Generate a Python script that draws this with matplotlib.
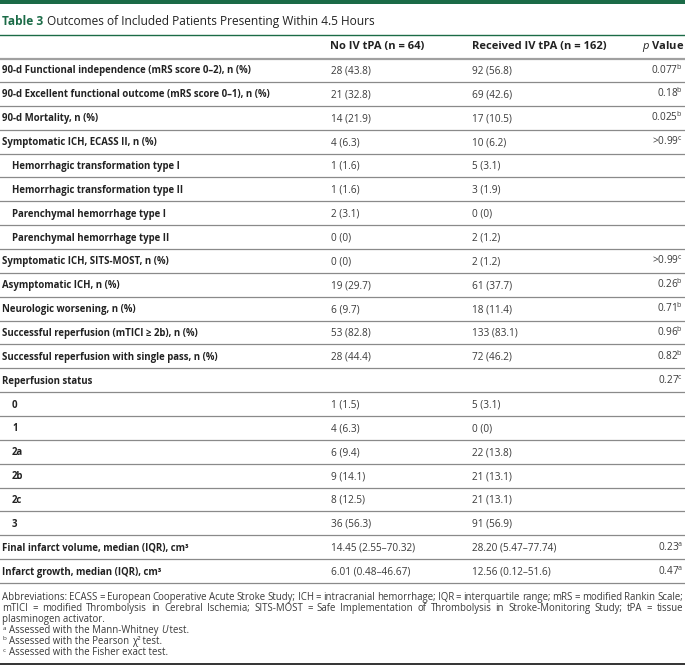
import matplotlib
matplotlib.use('Agg')
import matplotlib.pyplot as plt

plt.rcParams['font.family'] = ['Open Sans', 'DejaVu Sans']
plt.rcParams['mathtext.fontset'] = 'custom'
plt.rcParams['mathtext.rm'] = 'Open Sans'
plt.rcParams['mathtext.it'] = 'Open Sans:italic'
plt.rcParams['mathtext.bf'] = 'Open Sans:bold'

GREEN = '#1b6b47'
TEXT = '#3a3a3a'
DARK = '#222222'
RULE = '#8a8a8a'

title_tag = 'Table 3'
title = 'Outcomes of Included Patients Presenting Within 4.5 Hours'
col_headers = ['No IV tPA (n = 64)', 'Received IV tPA (n = 162)']

labels = [
    '90-d Functional independence (mRS score 0–2), n (%)',
    '90-d Excellent functional outcome (mRS score 0–1), n (%)',
    '90-d Mortality, n (%)',
    'Symptomatic ICH, ECASS II, n (%)',
    'Hemorrhagic transformation type I',
    'Hemorrhagic transformation type II',
    'Parenchymal hemorrhage type I',
    'Parenchymal hemorrhage type II',
    'Symptomatic ICH, SITS-MOST, n (%)',
    'Asymptomatic ICH, n (%)',
    'Neurologic worsening, n (%)',
    'Successful reperfusion (mTICI ≥ 2b), n (%)',
    'Successful reperfusion with single pass, n (%)',
    'Reperfusion status',
    '0', '1', '2a', '2b', '2c', '3',
    'Final infarct volume, median (IQR), cm³',
    'Infarct growth, median (IQR), cm³',
]
sub_rows = [
    'Hemorrhagic transformation type I', 'Hemorrhagic transformation type II',
    'Parenchymal hemorrhage type I', 'Parenchymal hemorrhage type II',
    '0', '1', '2a', '2b', '2c', '3',
]
no_tpa = ['28 (43.8)', '21 (32.8)', '14 (21.9)', '4 (6.3)', '1 (1.6)',
          '1 (1.6)', '2 (3.1)', '0 (0)', '0 (0)', '19 (29.7)', '6 (9.7)',
          '53 (82.8)', '28 (44.4)', '', '1 (1.5)', '4 (6.3)', '6 (9.4)',
          '9 (14.1)', '8 (12.5)', '36 (56.3)', '14.45 (2.55–70.32)',
          '6.01 (0.48–46.67)']
iv_tpa = ['92 (56.8)', '69 (42.6)', '17 (10.5)', '10 (6.2)', '5 (3.1)',
          '3 (1.9)', '0 (0)', '2 (1.2)', '2 (1.2)', '61 (37.7)', '18 (11.4)',
          '133 (83.1)', '72 (46.2)', '', '5 (3.1)', '0 (0)', '22 (13.8)',
          '21 (13.1)', '21 (13.1)', '91 (56.9)', '28.20 (5.47–77.74)',
          '12.56 (0.12–51.6)']
p_values = ['0.077', '0.18', '0.025', '>0.99', '', '', '', '', '>0.99',
            '0.26', '0.71', '0.96', '0.82', '0.27', '', '', '', '', '', '',
            '0.23', '0.47']
p_tests = ['b', 'b', 'b', 'c', '', '', '', '', 'c', 'b', 'b', 'b', 'b', 'c',
           '', '', '', '', '', '', 'a', 'a']

abbreviations = [
    'Abbreviations: ECASS = European Cooperative Acute Stroke Study; ICH = '
    'intracranial hemorrhage; IQR = interquartile range; mRS = modified Rankin Scale;',
    'mTICI = modified Thrombolysis in Cerebral Ischemia; SITS-MOST = Safe '
    'Implementation of Thrombolysis in Stroke-Monitoring Study; tPA = tissue',
    'plasminogen activator.',
]
footnotes = [
    ('a', ['Assessed with the Mann-Whitney ', 'U', ' test.']),
    ('b', ['Assessed with the Pearson ', 'χ²', ' test.']),
    ('c', ['Assessed with the Fisher exact test.']),
]

fig = plt.figure(figsize=(6.85, 6.7), dpi=100)
ax = fig.add_axes([0, 0, 1, 1])
ax.set_xlim(0, 685)
ax.set_ylim(670, 0)
ax.axis('off')
fig.canvas.draw()
renderer = fig.canvas.get_renderer()


def width_of(artist):
    return artist.get_window_extent(renderer).width


# top band and title
ax.axhspan(0, 4, color=GREEN, lw=0)
tag = ax.text(2, 25, title_tag, fontsize=8.6, weight='bold',
              color=GREEN, va='baseline')
ax.text(2 + width_of(tag) + 4, 25, title, fontsize=8.6, color=DARK,
        va='baseline')
ax.axhline(35, color=GREEN, lw=1.0)

# column headers
ax.text(330, 47, col_headers[0], fontsize=8, weight='bold',
        color=DARK, va='center')
ax.text(472, 47, col_headers[1], fontsize=8, weight='bold',
        color=DARK, va='center')
ax.text(684, 47, r'$\mathit{p}$ Value', fontsize=8,
        weight='bold', color=DARK, va='center', ha='right')
ax.axhline(58.5, color='#a0a0a0', lw=1.6)

pitch = 23.86
for i, lab in enumerate(labels):
    y = 70 + i * pitch
    base = y + 3.5
    x0 = 12 if lab in sub_rows else 2
    ax.text(x0, base, lab, fontsize=6.9, weight='bold', color=DARK,
            va='baseline')
    ax.text(331, base, no_tpa[i], fontsize=7.2, color=TEXT, va='baseline')
    ax.text(472, base, iv_tpa[i], fontsize=7.2, color=TEXT, va='baseline')
    if p_values[i]:
        ax.text(683, base, p_values[i] + r'$^{\mathrm{%s}}$' % p_tests[i],
                fontsize=7.2, color=TEXT, va='baseline', ha='right')
    ax.axhline(y + pitch / 2, color=RULE, lw=0.9)

# justified abbreviation paragraph
fs_note = 6.9
left, right = 2, 683
ab_y = 600
line_h = 11
for k, line in enumerate(abbreviations):
    y = ab_y + k * line_h
    if k == len(abbreviations) - 1:
        ax.text(left, y, line, fontsize=fs_note, color=TEXT, va='baseline')
        continue
    words = line.split(' ')
    arts = [ax.text(0, y, w, fontsize=fs_note, color=TEXT, va='baseline')
            for w in words]
    widths = [width_of(a) for a in arts]
    gap = (right - left - sum(widths)) / (len(words) - 1)
    x = left
    for a, w in zip(arts, widths):
        a.set_x(x)
        x += w + gap

for k, (mark, parts) in enumerate(footnotes):
    y = ab_y + (k + 3) * line_h
    ax.text(left + 1, y - 3.5, mark, fontsize=4.6, color=TEXT, va='baseline')
    x = left + 7
    for part in parts:
        style = 'italic' if part == 'U' else 'normal'
        t = ax.text(x, y, part, fontsize=fs_note, color=TEXT, va='baseline',
                    style=style)
        x += width_of(t)

ax.axhline(664, color='#333333', lw=1.4)

fig.savefig('out.png', dpi=100)
